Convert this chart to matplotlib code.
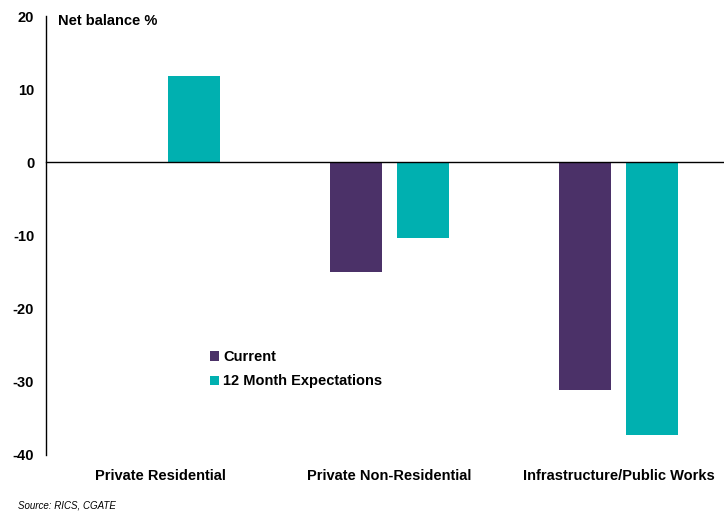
import matplotlib
matplotlib.use("Agg")
import matplotlib.pyplot as plt
import numpy as np

plt.rcParams['font.family'] = ['Liberation Sans', 'DejaVu Sans']

categories = ["Private Residential", "Private Non-Residential", "Infrastructure/Public Works"]
current = [0.0, -15.0, -31.1]
expectations = [11.8, -10.4, -37.2]
series_names = ["Current", "12 Month Expectations"]
yticks = [20, 10, 0, -10, -20, -30, -40]

c_cur = "#4B3168"
c_exp = "#00B0B0"

fig = plt.figure(figsize=(7.24, 5.13), dpi=100)
ax = fig.add_axes([46/724, 1-455/513, 1-46/724, (455-16)/513])

x = np.arange(len(categories))
w = 0.227
off = 0.145
ax.bar(x - off, current, w, color=c_cur, label=series_names[0])
ax.bar(x + off, expectations, w, color=c_exp, label=series_names[1])

ax.set_xlim(-0.5, 2.46)
ax.set_ylim(-40, 20)
ax.set_yticks(yticks)
ax.set_yticklabels([str(t) for t in yticks], fontsize=10.5, fontweight='bold')
ax.tick_params(axis='y', length=0, pad=8.5)
ax.set_xticks(x)
ax.set_xticklabels(categories, fontsize=10.5, fontweight='bold')
ax.tick_params(axis='x', length=0, pad=10)
for s in ['top', 'right', 'bottom']:
    ax.spines[s].set_visible(False)
ax.spines['left'].set_linewidth(1.0)
ax.axhline(0, color='black', lw=1.0, clip_on=False)

ax.text(58/724, 1-21/513, "Net balance %", transform=fig.transFigure, fontsize=10.5,
        fontweight='bold', va='center', ha='left')

leg = ax.legend(loc='upper left', bbox_to_anchor=((197-46)/678, (455-337)/439),
                frameon=False, prop={'size': 10.5, 'weight': 'bold'},
                handlelength=0.6, handleheight=0.6, handletextpad=0.3, labelspacing=0.7)

fig.text(18/724, 1-505/513, "Source: RICS, CGATE", fontsize=7, style='italic', va='center')

fig.savefig("out.png", dpi=100)
